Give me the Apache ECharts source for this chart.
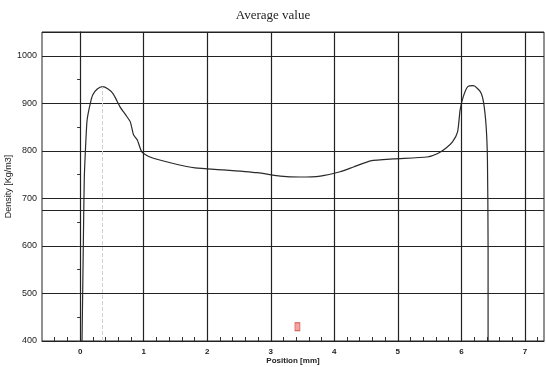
<!DOCTYPE html>
<html>
<head>
<meta charset="utf-8">
<script src="https://cdn.jsdelivr.net/npm/echarts@6/dist/echarts.min.js"></script>
<style>
  html, body { margin: 0; padding: 0; background: #fff; }
  #chart { width: 546px; height: 367px; }
</style>
</head>
<body>
<div id="chart"></div>
<script>
// density profile
var posX = [0.03, 0.05, 0.065, 0.09, 0.11, 0.16, 0.2, 0.27, 0.35, 0.44, 0.52, 0.58, 0.63, 0.72, 0.79, 0.84, 0.9, 0.97,
    1.1, 1.42, 1.81, 2.25, 2.79, 3.15, 3.46, 3.78, 4.09, 4.3, 4.57, 4.93, 5.46, 5.62, 5.75, 5.86, 5.94, 5.98,
    6.03, 6.1, 6.19, 6.3, 6.35, 6.39, 6.41, 6.42, 6.42];
var density = [400, 600, 740, 820, 865, 900, 918, 930, 935, 930, 920, 905, 892, 875, 861, 834, 823, 798,
    787, 775, 764, 760, 754, 747, 745, 747, 756, 766, 779, 783, 787, 794, 805, 819, 840, 886,
    914, 935, 937, 924, 901, 850, 781, 600, 400];
var gridX = [0, 1, 2, 3, 4, 5, 6, 7];
var extraY = [675];
var marker = [[3.42, 430]];

var curve = posX.map(function (x, i) { return [x, density[i]]; });

// gray guide line under the left peak
var peakI = 0;
for (var i = 0; i < posX.length; i++) {
    if (posX[i] < 1 && density[i] > density[peakI]) peakI = i;
}

var gridLines = gridX.map(function (v) { return { xAxis: v }; })
    .concat(extraY.map(function (v) { return { yAxis: v }; }));

var chart = echarts.init(document.getElementById('chart'));
var option = {
    animation: false,
    title: {
        text: 'Average value',
        left: 'center',
        top: 4,
        textStyle: { fontFamily: 'Liberation Serif', fontSize: 13, fontWeight: 'normal', color: '#222' }
    },
    grid: {
        left: 42, right: 2, top: 32, bottom: 26,
        outerBoundsMode: 'none',
        containLabel: false,
        show: true, borderColor: '#222', borderWidth: 1
    },
    xAxis: {
        type: 'value',
        min: -0.6,
        max: 7.3,
        interval: 0.2,
        name: 'Position [mm]',
        nameLocation: 'middle',
        nameGap: 16,
        nameMoveOverlap: false,
        nameTextStyle: { fontFamily: 'Liberation Sans', fontSize: 8, fontWeight: 'bold', color: '#222' },
        axisLine: { lineStyle: { color: '#222', width: 1 } },
        axisTick: { inside: true, length: 4, lineStyle: { color: '#333' } },
        axisLabel: {
            margin: 7,
            fontFamily: 'Liberation Sans', fontSize: 8, fontWeight: 'bold', color: '#222',
            showMinLabel: false, showMaxLabel: false,
            formatter: function (v) {
                return Math.abs(v - Math.round(v)) < 1e-6 ? String(Math.round(v)) : '';
            }
        },
        splitLine: { show: false }
    },
    yAxis: {
        type: 'value',
        min: 400,
        max: 1050,
        interval: 100,
        name: 'Density [Kg/m3]',
        nameLocation: 'middle',
        nameGap: 29,
        nameMoveOverlap: false,
        nameTextStyle: { fontFamily: 'Liberation Sans', fontSize: 9, color: '#222' },
        axisLine: { show: true, lineStyle: { color: '#222' } },
        axisTick: { show: true, length: 3, lineStyle: { color: '#333' } },
        minorTick: { show: true, splitNumber: 2, length: 3, lineStyle: { color: '#333' } },
        axisLabel: {
            margin: 5,
            fontFamily: 'Liberation Sans', fontSize: 9, color: '#222',
            showMaxLabel: false,
            formatter: function (v) { return v % 100 === 0 ? String(v) : ''; }
        },
        splitLine: { show: true, lineStyle: { color: '#222', width: 1.2 } }
    },
    series: [
        {
            type: 'line',
            data: curve,
            showSymbol: false,
            smooth: 0.2,
            lineStyle: { color: '#2a2a2a', width: 1.2 },
            markLine: {
                silent: true,
                symbol: 'none',
                label: { show: false },
                lineStyle: { color: '#222', width: 1.2, type: 'solid' },
                data: gridLines.concat([[
                    { coord: [posX[peakI], 400], lineStyle: { color: '#cfcfcf', width: 1, type: 'dashed' } },
                    { coord: [posX[peakI], density[peakI]] }
                ]])
            }
        },
        {
            type: 'scatter',
            data: marker,
            symbol: 'rect',
            symbolSize: [5, 8],
            itemStyle: { color: '#f28b8b', borderColor: '#c0392b', borderWidth: 0.8 }
        }
    ]
};
chart.setOption(option);
</script>
</body>
</html>
